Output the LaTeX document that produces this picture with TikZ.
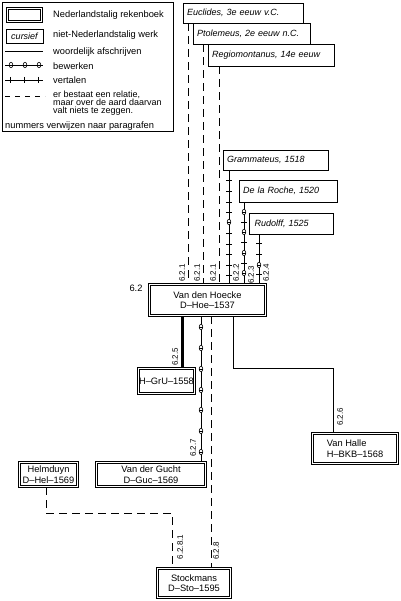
\documentclass[tikz,border=0pt]{standalone}
\usepackage{fontspec}
\setmainfont{Liberation Sans}
\begin{document}
\begin{tikzpicture}[x=1pt,y=-1pt,
  every node/.style={font=\fontsize{9.3}{10.5}\selectfont},
  nl/.style={draw, double=white, double distance=1.2pt, line width=0.75pt, inner sep=0pt, align=center},
  fw/.style={draw, line width=0.6pt, inner ysep=0pt, inner xsep=4pt, align=left, font=\fontsize{9}{10}\selectfont\itshape},
  lbl/.style={rotate=90, inner sep=0pt, font=\fontsize{8}{9}\selectfont},
  txt/.style={anchor=west, inner sep=0pt},
  tight/.style={anchor=base west, inner sep=0pt, text height=6pt, text depth=1.2pt, font=\fontsize{9}{9}\selectfont},
  dsh/.style={dash pattern=on 8pt off 5pt, line width=0.8pt},
  sol/.style={line width=0.7pt},
  tk/.pic={\draw[line width=0.5pt] (-3,0) -- (3,0);},
  tkv/.pic={\draw[line width=0.5pt] (0,-3) -- (0,3);},
  bw/.pic={\draw[line width=0.6pt, fill=white] (0,0) ellipse [x radius=1.8pt, y radius=2.7pt];
           \draw[line width=0.5pt] (-1.8,0) -- (1.8,0);}
]
\useasboundingbox (0,0) rectangle (400,601);

% ---------- legend ----------
\node[draw, line width=0.8pt, minimum width=171pt, minimum height=129pt, inner sep=0pt] (leg) at (87.5,66.5) {};
\node[nl, minimum width=34.4pt, minimum height=13.4pt] (lnl) at (24.5,15) {};
\node[txt] (tnl) at (53,15) {Nederlandstalig rekenboek};
\node[draw, line width=0.6pt, minimum width=37pt, minimum height=14pt, inner sep=0pt,
      font=\fontsize{9}{10}\selectfont\itshape] (lfw) at (24.5,36) {cursief};
\node[txt] (tfw) at (53,35) {niet-Nederlandstalig werk};
\coordinate (la1) at (5,51); \coordinate (lb1) at (43,51);
\draw[sol] (la1) -- (lb1);
\node[txt] (tw) at (53,52) {woordelijk afschrijven};
\coordinate (la2) at (5,65); \coordinate (lb2) at (43,65);
\draw[sol] (la2) -- (lb2);
\foreach \x in {11,25,39} \pic at (\x,65) {bw};
\node[txt] (tb) at (53,66) {bewerken};
\coordinate (la3) at (5,80); \coordinate (lb3) at (43,80);
\draw[sol] (la3) -- (lb3);
\foreach \x in {10,24,38} \pic at (\x,80) {tkv};
\node[txt] (tv) at (53,80) {vertalen};
\coordinate (la4) at (5,96); \coordinate (lb4) at (45,96);
\draw[line width=0.7pt, dash pattern=on 5pt off 5pt] (la4) -- (lb4);
\node[tight] (tr1) at (53,97.5) {er bestaat een relatie,};
\node[tight] (tr2) at (53,105.5) {maar over de aard daarvan};
\node[tight] (tr3) at (53,113.5) {valt niets te zeggen.};
\node[txt] (tn) at (5,126) {nummers verwijzen naar paragrafen};

% ---------- foreign works ----------
\node[fw, text width=112pt, minimum height=20pt] (euc) at (243,13) {Euclides, 3e eeuw v.C.};
\node[fw, text width=109pt, minimum height=21pt] (pto) at (251.5,33.5) {Ptolemeus, 2e eeuw n.C.};
\node[fw, text width=118pt, minimum height=22pt] (reg) at (271,55) {Regiomontanus, 14e eeuw};
\node[fw, text width=97pt, minimum height=20pt] (grm) at (275.5,160) {Grammateus, 1518};
\node[fw, text width=90pt, minimum height=22pt] (dlr) at (288,191) {De la Roche, 1520};
\node[fw, text width=73pt, inner xsep=5.5pt, minimum height=21pt] (rud) at (291,223.5) {Rudolff, 1525};

% ---------- Dutch works ----------
\node[nl, minimum width=116.4pt, minimum height=31.4pt] (vdh) at (207.5,300) {Van den Hoecke\\D–Hoe–1537};
\node[nl, minimum width=56.4pt, minimum height=25.4pt] (gru) at (166.5,381) {H–GrU–1558};
\node[nl, minimum width=85.4pt, minimum height=30.4pt, align=left] (vha) at (355,448.5) {Van Halle\\H–BKB–1568};
\node[nl, minimum width=58.4pt, minimum height=24.4pt] (hel) at (48.5,474.5) {Helmduyn\\D–Hel–1569};
\node[nl, minimum width=109.4pt, minimum height=24.4pt] (vdg) at (151,474.5) {Van der Gucht\\D–Guc–1569};
\node[nl, minimum width=73.4pt, minimum height=29.4pt] (sto) at (194,583) {Stockmans\\D–Sto–1595};

% ---------- x positions of connectors ----------
\coordinate (xe) at (188,0);
\coordinate (xp) at (203,0);
\coordinate (xr) at (219,0);
\coordinate (xg) at (229,0);
\coordinate (xd) at (244,0);
\coordinate (xu) at (259,0);
\coordinate (xt) at (182,0);
\coordinate (xb) at (201,0);
\coordinate (xs) at (211,0);
\coordinate (bend) at (233,368);
\coordinate (xvh) at (333,0);
\coordinate (hb) at (46,513);
\coordinate (hc) at (172,513);

% ---------- connectors into Van den Hoecke ----------
\draw[dsh] (euc.south -| xe) -- (vdh.north -| xe);
\draw[dsh] (pto.south -| xp) -- (vdh.north -| xp);
\draw[dsh] (reg.south -| xr) -- (vdh.north -| xr);
\draw[sol] (grm.south -| xg) -- (vdh.north -| xg);
\foreach \y in {180,191,202,212,233,244,254,265,275} \pic at (229,\y) {tk};
\pic at (229,222) {bw};
\draw[sol] (dlr.south -| xd) -- (vdh.north -| xd);
\foreach \y in {222,242,263} \pic at (244,\y) {tk};
\foreach \y in {212,232,253,273} \pic at (244,\y) {bw};
\draw[sol] (rud.south -| xu) -- (vdh.north -| xu);
\foreach \y in {243,254,274} \pic at (259,\y) {tk};
\pic at (259,265) {bw};

% ---------- connectors out of Van den Hoecke ----------
\draw[line width=3pt] (vdh.south -| xt) -- (gru.north -| xt);
\draw[sol] (vdh.south -| xb) -- (vdg.north -| xb);
\foreach \y in {327,348,369,390,410,431,452} \pic at (201,\y) {bw};
\draw[dsh] (vdh.south -| xs) -- (sto.north -| xs);
\draw[sol] (vdh.south -| bend) -- (bend) -| (vha.north -| xvh);
\draw[dsh] (hel.south -| hb) -- (hb) -- (hc) -- (sto.north -| hc);

% ---------- paragraph numbers ----------
\node (n62) at (136,288) {6.2};
\node[lbl] (a1) at (182,273) {6.2.1};
\node[lbl] (a2) at (197,273) {6.2.1};
\node[lbl] (a3) at (213,273) {6.2.1};
\node[lbl] (a4) at (236,273) {6.2.2};
\node[lbl] (a5) at (251,275) {6.2.3};
\node[lbl] (a6) at (266,273) {6.2.4};
\node[lbl] (a7) at (175,357) {6.2.5};
\node[lbl] (a8) at (340,417) {6.2.6};
\node[lbl] (a9) at (193,448) {6.2.7};
\node[lbl] (a10) at (180,547) {6.2.8.1};
\node[lbl] (a11) at (216,551) {6.2.8};
\end{tikzpicture}
\end{document}
